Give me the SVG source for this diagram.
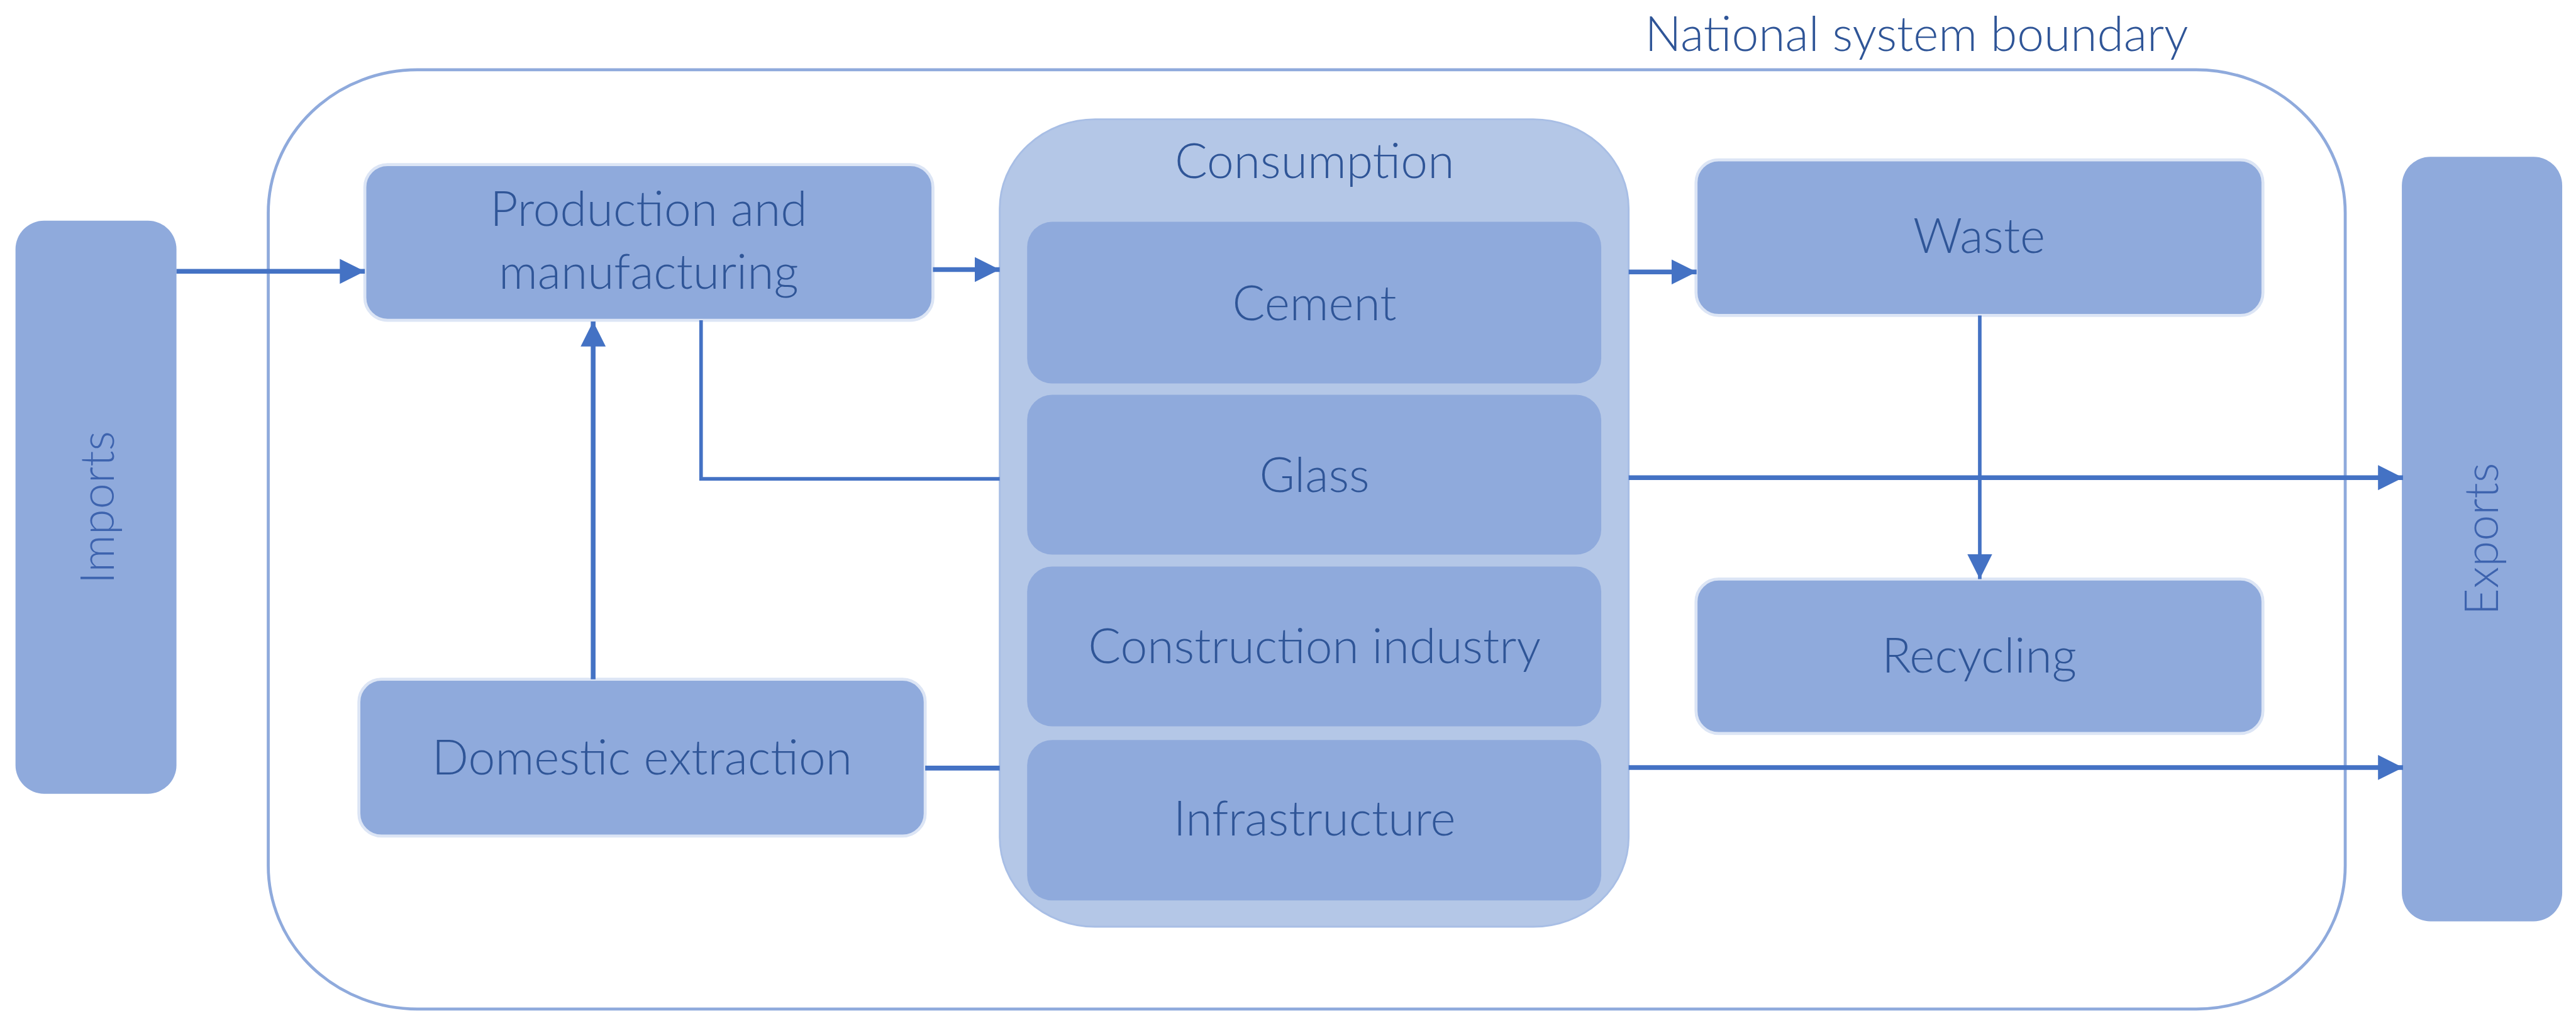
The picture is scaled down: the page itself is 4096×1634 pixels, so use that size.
<svg xmlns="http://www.w3.org/2000/svg" width="4096" height="1634" viewBox="0 0 4096 1634">
<defs>
<style>
.box{fill:#8FAADC;stroke:#DCE5F5;stroke-width:5}
.plain{fill:#8FAADC}
.outer{fill:#B4C7E7;stroke:#A8BEE5;stroke-width:3}
.lbl{font-family:Lato,"Liberation Sans",sans-serif;font-weight:300;font-size:81px;fill:#2F5597;text-anchor:middle}
.side{font-family:Lato,"Liberation Sans",sans-serif;font-weight:300;font-size:78px;fill:#3D63AE;text-anchor:middle}
.con{fill:none;stroke:#4472C4;stroke-width:8}
.thin{fill:none;stroke:#4472C4;stroke-width:6}
</style>
<marker id="ah" markerUnits="userSpaceOnUse" markerWidth="42" markerHeight="42" refX="42" refY="21" orient="auto" viewBox="0 0 42 42">
<path d="M0,0 L42,21 L0,42 z" fill="#4472C4"/>
</marker>
</defs>
<rect width="4096" height="1634" fill="#FFFFFF"/>
<g transform="scale(0.9479)">
<g id="boundary">
<rect x="450" y="117" width="3484" height="1575" rx="250" ry="240" fill="none" stroke="#8FAADC" stroke-width="5"/>
<text class="lbl" x="3215" y="85">National system boundary</text>
</g>
<g id="imports">
<rect class="plain" x="26" y="370" width="270" height="961" rx="48"/>
<text class="side" transform="translate(191,851) rotate(-90)">Imports</text>
</g>
<g id="exports">
<rect class="plain" x="4029" y="263" width="269" height="1282" rx="48"/>
<text class="side" transform="translate(4190,904) rotate(-90)">Exports</text>
</g>
<g id="production">
<rect class="box" x="612" y="276" width="953" height="261" rx="38"/>
<text class="lbl" x="1088" y="379">Production and</text>
<text class="lbl" x="1088" y="484">manufacturing</text>
</g>
<g id="domestic">
<rect class="box" x="602" y="1139" width="950" height="263" rx="38"/>
<text class="lbl" x="1077" y="1299">Domestic extraction</text>
</g>
<g id="consumption">
<rect class="outer" x="1677" y="200" width="1055" height="1354" rx="160" ry="150"/>
<text class="lbl" x="2205" y="299">Consumption</text>
</g>
<g id="cement">
<rect class="plain" x="1723" y="372" width="963" height="271" rx="42"/>
<text class="lbl" x="2205" y="537">Cement</text>
</g>
<g id="glass">
<rect class="plain" x="1723" y="662" width="963" height="268" rx="42"/>
<text class="lbl" x="2205" y="825">Glass</text>
</g>
<g id="construction">
<rect class="plain" x="1723" y="950" width="963" height="268" rx="42"/>
<text class="lbl" x="2205" y="1112">Construction industry</text>
</g>
<g id="infrastructure">
<rect class="plain" x="1723" y="1241" width="963" height="269" rx="42"/>
<text class="lbl" x="2205" y="1401">Infrastructure</text>
</g>
<g id="waste">
<rect class="box" x="2845" y="268" width="951" height="261" rx="38"/>
<text class="lbl" x="3320" y="424">Waste</text>
</g>
<g id="recycling">
<rect class="box" x="2845" y="971" width="951" height="259" rx="38"/>
<text class="lbl" x="3320" y="1128">Recycling</text>
</g>
<g id="connectors">
<path class="con" d="M296,455 H612" marker-end="url(#ah)"/>
<path class="con" d="M1565,452 H1677" marker-end="url(#ah)"/>
<path class="con" d="M995,1139 V539" marker-end="url(#ah)"/>
<path class="thin" d="M1176,537 V803 H1677"/>
<path class="con" d="M1552,1288 H1677"/>
<path class="con" d="M2732,456 H2846" marker-end="url(#ah)"/>
<path class="con" d="M2732,801 H4031" marker-end="url(#ah)"/>
<path class="con" d="M2732,1287 H4031" marker-end="url(#ah)"/>
<path class="thin" d="M3321,529 V971" marker-end="url(#ah)"/>
</g>
</g>
</svg>
